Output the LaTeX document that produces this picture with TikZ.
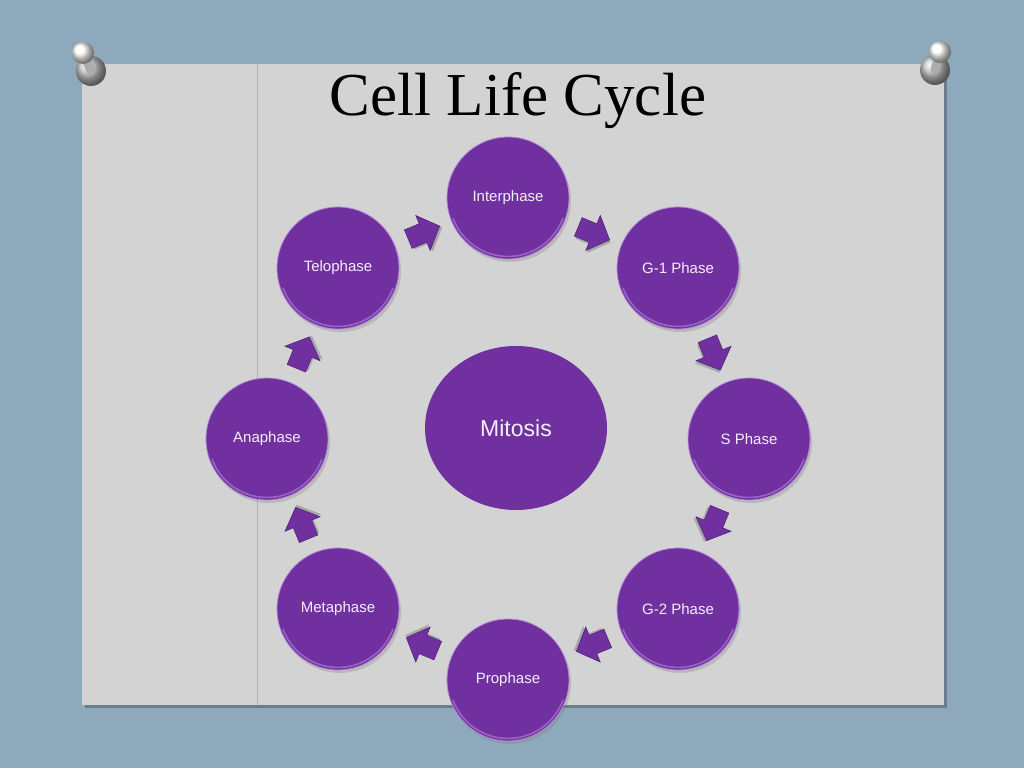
\documentclass[tikz,border=0pt]{standalone}
\usepackage{fontspec}
\usetikzlibrary{calc,shapes.geometric,shadows}
\newfontfamily\titlefont{Liberation Serif}
\newfontfamily\phasefont{Liberation Sans}
\definecolor{cellpurple}{HTML}{7030A0}
\definecolor{rimlilac}{HTML}{B48AD8}
\definecolor{celltext}{HTML}{F4EEF9}
\definecolor{boardblue}{HTML}{8EA8BC}
\definecolor{cardgrey}{HTML}{D3D3D3}
\begin{document}
\begin{tikzpicture}[x=1pt,y=1pt,
    phase/.style={circle, minimum size=122, inner sep=0, fill=cellpurple,
        draw=rimlilac, line width=0.8pt, text=celltext,
        font=\phasefont\fontsize{15}{18}\selectfont,
        drop shadow={shadow xshift=2pt, shadow yshift=-3pt, opacity=0.3},
        path picture={\draw[rimlilac, line width=1.6pt, opacity=0.6]
            ($(path picture bounding box.center)+(200:58.5)$) arc (200:340:58.5);}},
    blockarrow/.pic={
        \fill[black, opacity=0.2] (-14,-12) -- (2,-12) -- (2,-21) -- (20,-2) -- (2,17) -- (2,8) -- (-14,8) -- cycle;
        \fill[cellpurple, draw=cellpurple!70!black, line width=0.5pt]
            (-16,-10) -- (0,-10) -- (0,-19) -- (18,0) -- (0,19) -- (0,10) -- (-16,10) -- cycle;}]
    \useasboundingbox (0,0) rectangle (1024,768);
    % board and card
    \fill[boardblue] (0,0) rectangle (1024,768);
    \fill[black, opacity=0.25] (85,60) rectangle (947,701);
    \fill[cardgrey] (82,63) rectangle (944,704);
    \draw[black!30, line width=0.7pt] (257,63) -- (257,704);
    % pins
    \shade[ball color=gray!45] (91,697) circle (15);
    \draw[gray!65, line width=9pt, line cap=round] (91,697) -- (84,714);
    \shade[ball color=white] (83,715) circle (11);
    \shade[ball color=gray!45] (935,698) circle (15);
    \draw[gray!65, line width=9pt, line cap=round] (935,698) -- (940,715);
    \shade[ball color=white] (940,716) circle (11);
    % title
    \node [anchor=base, font=\titlefont\fontsize{61}{70}\selectfont] (title) at (518,652) {Cell Life Cycle};
    % cycle
    \coordinate (ring) at (508,329);
    \node [phase] (inter) at (508,570) {Interphase};
    \node [phase] (gone) at (678,500) {G-1 Phase};
    \node [phase] (sphase) at (749,329) {S Phase};
    \node [phase] (gtwo) at (678,159) {G-2 Phase};
    \node [phase] (pro) at (508,88) {Prophase};
    \node [phase] (meta) at (338,159) {Metaphase};
    \node [phase] (ana) at (267,329) {Anaphase};
    \node [phase] (telo) at (338,500) {Telophase};
    \node [ellipse, fill=cellpurple, minimum width=182, minimum height=164, text=celltext,
        font=\phasefont\fontsize{23}{27}\selectfont] (mitosis) at (516,340) {Mitosis};
    % arrows
    \pic[rotate=-22.5] at ($(inter)!0.5!(gone)$) {blockarrow};
    \pic[rotate=-67.5] at ($(gone)!0.5!(sphase)$) {blockarrow};
    \pic[rotate=-112.5] at ($(sphase)!0.5!(gtwo)$) {blockarrow};
    \pic[rotate=-157.5] at ($(gtwo)!0.5!(pro)$) {blockarrow};
    \pic[rotate=157.5] at ($(pro)!0.5!(meta)$) {blockarrow};
    \pic[rotate=112.5] at ($(meta)!0.5!(ana)$) {blockarrow};
    \pic[rotate=67.5] at ($(ana)!0.5!(telo)$) {blockarrow};
    \pic[rotate=22.5] at ($(telo)!0.5!(inter)$) {blockarrow};
\end{tikzpicture}
\end{document}
